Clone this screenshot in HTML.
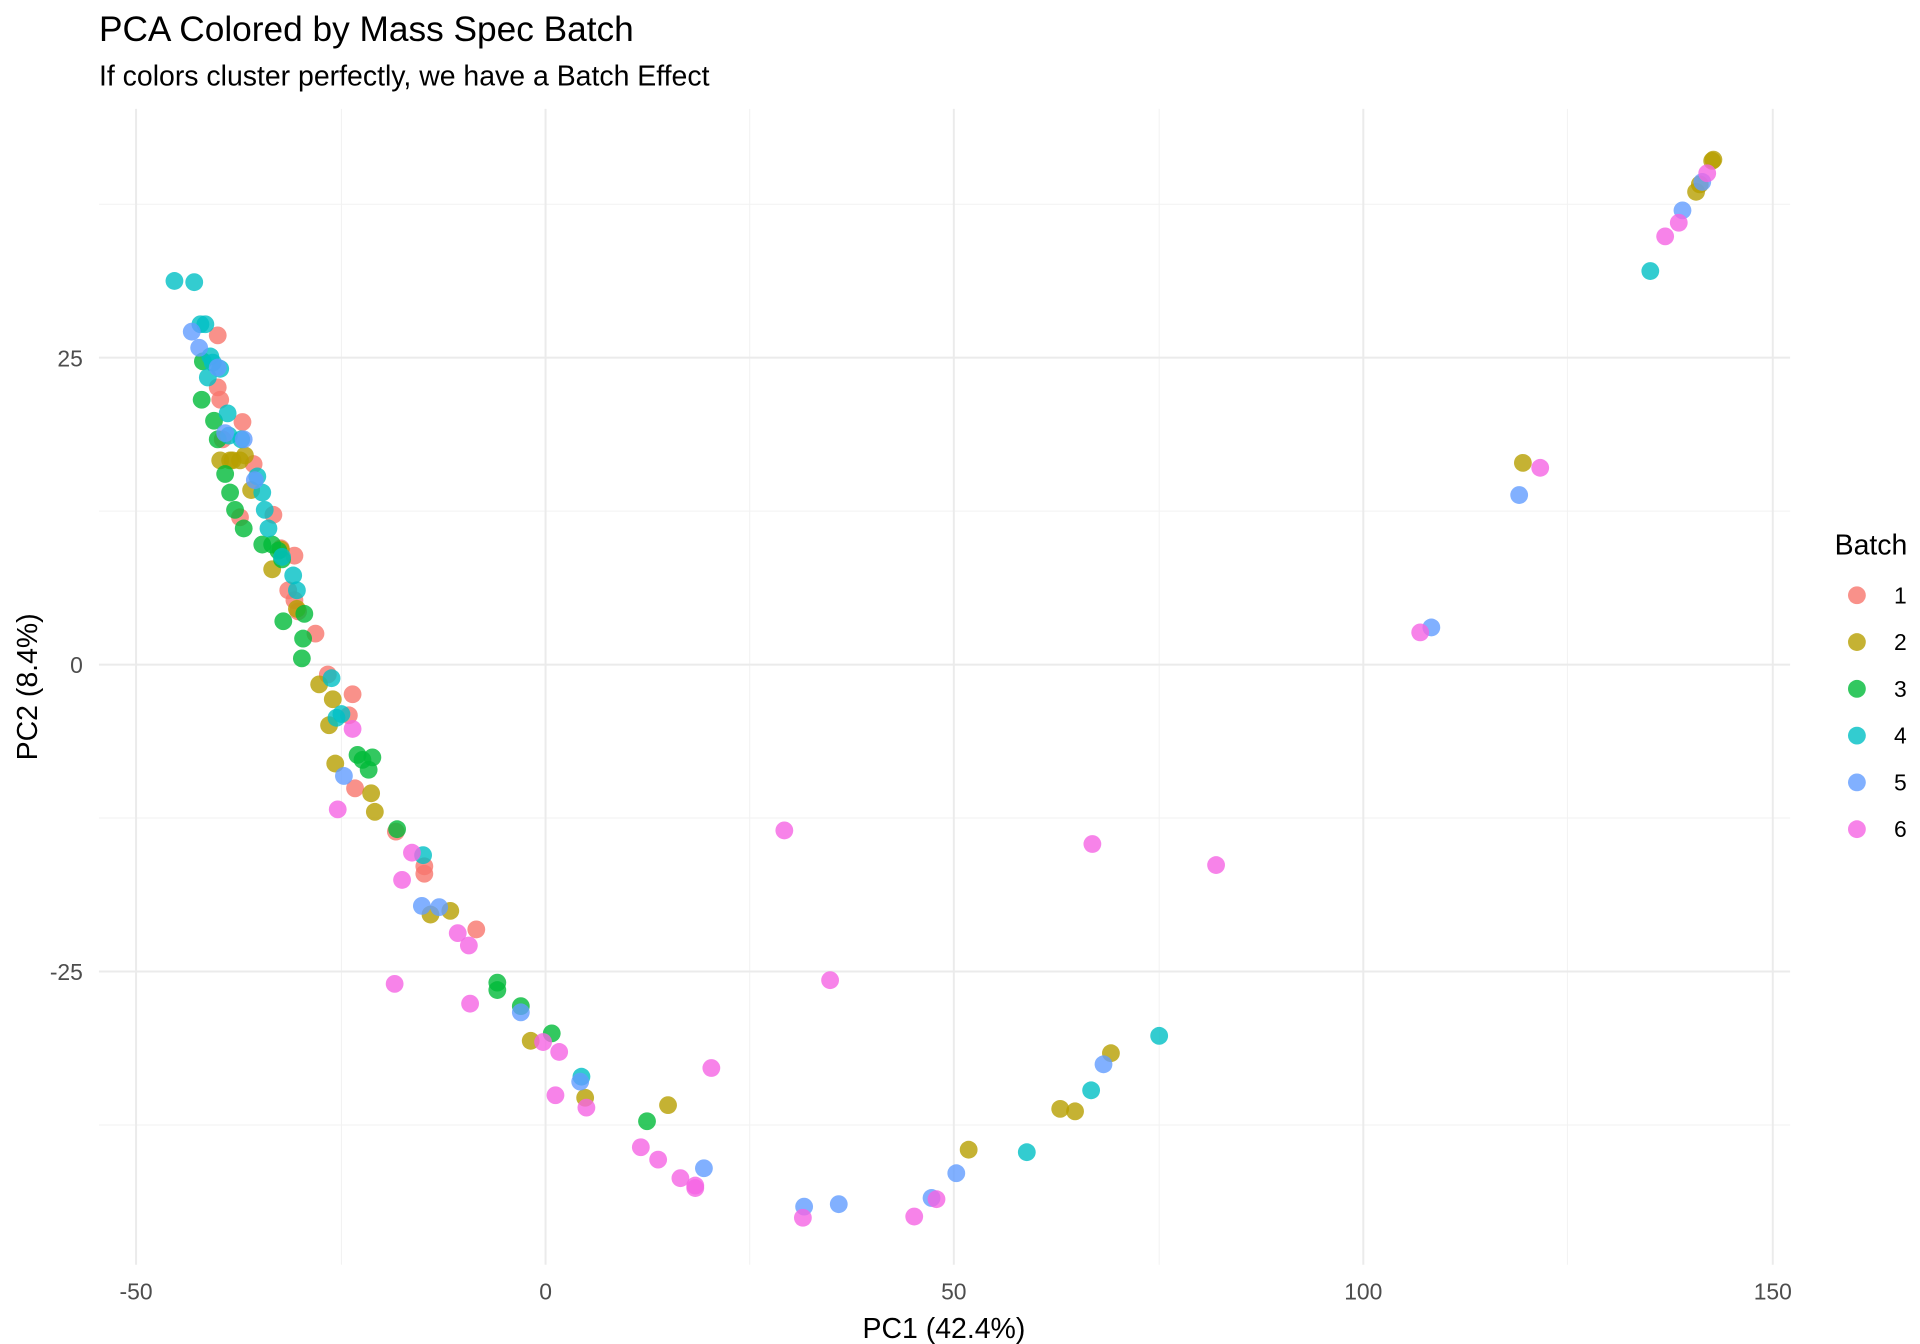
<!DOCTYPE html>
<html><head><meta charset="utf-8"><style>
html,body{margin:0;padding:0;background:#fff;}
svg{display:block;font-family:"Liberation Sans",sans-serif;}
</style></head><body>
<svg id="s" width="1920" height="1344" viewBox="0 0 1552 1086" preserveAspectRatio="none">
<rect width="1552" height="1086" fill="#fff"/>
<g stroke="#f2f2f2" stroke-width="0.8">
<line x1="276" y1="88" x2="276" y2="1022"/><line x1="606" y1="88" x2="606" y2="1022"/>
<line x1="937" y1="88" x2="937" y2="1022"/><line x1="1267" y1="88" x2="1267" y2="1022"/>
<line x1="80" y1="165" x2="1447" y2="165"/><line x1="80" y1="413" x2="1447" y2="413"/>
<line x1="80" y1="661" x2="1447" y2="661"/><line x1="80" y1="909" x2="1447" y2="909"/>
</g>
<g stroke="#ebebeb" stroke-width="1.6">
<line x1="110" y1="88" x2="110" y2="1022"/><line x1="441" y1="88" x2="441" y2="1022"/>
<line x1="771" y1="88" x2="771" y2="1022"/><line x1="1102" y1="88" x2="1102" y2="1022"/>
<line x1="1433" y1="88" x2="1433" y2="1022"/>
<line x1="80" y1="289" x2="1447" y2="289"/><line x1="80" y1="537" x2="1447" y2="537"/>
<line x1="80" y1="785" x2="1447" y2="785"/>
</g>
<g id="pts"></g>
<text x="80" y="33" font-size="28.5" fill="#000">PCA Colored by Mass Spec Batch</text>
<text x="80" y="69" font-size="23" fill="#000">If colors cluster perfectly, we have a Batch Effect</text>
<g font-size="18.5" fill="#4d4d4d" text-anchor="middle">
<text x="110" y="1050">-50</text><text x="441" y="1050">0</text><text x="771" y="1050">50</text>
<text x="1102" y="1050">100</text><text x="1433" y="1050">150</text>
</g>
<g font-size="18.5" fill="#4d4d4d" text-anchor="end">
<text x="67" y="296">25</text><text x="67" y="544">0</text><text x="67" y="792">-25</text>
</g>
<text x="763" y="1081" font-size="23" text-anchor="middle">PC1 (42.4%)</text>
<text transform="translate(30,555) rotate(-90)" font-size="23" text-anchor="middle">PC2 (8.4%)</text>
<text x="1483" y="448" font-size="23">Batch</text>
<g id="leg" font-size="18.5"></g>
</svg>
<script>
var C=["#F8766D","#B79F00","#00BA38","#00BFC4","#619CFF","#F564E3"];
var P=[
[[176,271],[176,313],[178,323],[196,341],[180,355],[205,375],[221,416],[194,418],[233,477],[238,485],[241,494],[255,512],[265,545],[285,561],[282,578],[287,637],[320,672],[343,700],[343,706],[385,751],[238,449],[227,443]],
[[178,372],[186,372],[194,372],[203,396],[227,444],[220,460],[240,492],[258,553],[269,565],[266,586],[271,617],[300,641],[303,656],[364,736],[348,739],[429,841],[473,887],[540,893],[783,929],[857,896],[869,898],[898,851],[1231,374],[1371,155],[1374,149],[1384,130],[1385,129],[198,368],[188,372]],
[[164,292],[163,323],[173,340],[176,355],[182,383],[186,398],[190,412],[197,427],[212,440],[220,440],[228,452],[246,496],[229,502],[244,532],[245,516],[289,610],[293,614],[301,612],[298,622],[321,670],[402,794],[402,800],[421,813],[446,835],[523,906],[225,445]],
[[141,227],[157,228],[162,262],[166,262],[170,288],[172,293],[168,305],[184,334],[195,355],[208,385],[212,398],[214,412],[217,427],[228,450],[237,465],[240,477],[268,548],[276,577],[272,580],[1334,219],[937,837],[882,881],[830,931],[470,870],[342,691],[178,298],[185,352]],
[[155,268],[161,281],[176,297],[182,350],[197,355],[206,388],[278,627],[341,732],[355,733],[421,818],[469,874],[569,944],[650,975],[678,973],[753,968],[773,948],[892,860],[1228,400],[1157,507],[1360,170],[1376,147]],
[[273,654],[285,589],[333,689],[325,711],[319,795],[370,754],[379,764],[380,811],[439,842],[452,850],[449,885],[474,895],[518,927],[532,937],[550,952],[562,958],[562,960],[575,863],[634,671],[671,792],[649,984],[739,983],[757,969],[883,682],[983,699],[1148,511],[1245,378],[1346,191],[1357,180],[1380,140]]
];
var g=document.getElementById("pts"),h="";
P.forEach(function(a,i){a.forEach(function(p){h+='<circle cx="'+p[0]+'" cy="'+p[1]+'" r="7.2" fill="'+C[i]+'" fill-opacity="0.8"/>';});});
g.innerHTML=h;
var l="";
for(var i=0;i<6;i++){var y=481+i*37.8;l+='<circle cx="1501" cy="'+y+'" r="7.2" fill="'+C[i]+'" fill-opacity="0.8"/><text x="1531" y="'+(y+6.5)+'">'+(i+1)+'</text>';}
document.getElementById("leg").innerHTML=l;
</script>
</body></html>
